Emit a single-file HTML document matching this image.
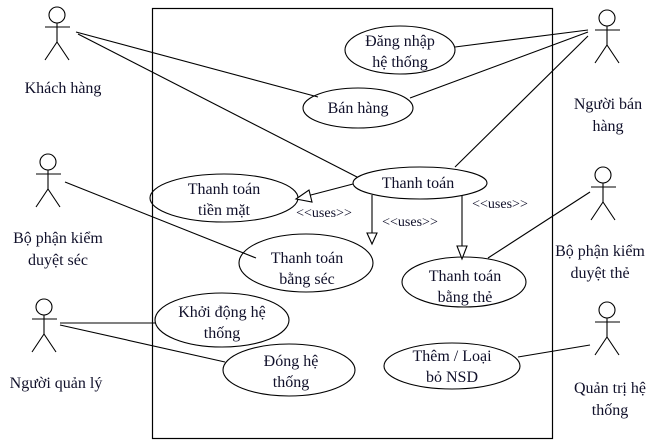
<!DOCTYPE html>
<html><head><meta charset="utf-8"><style>
body{margin:0;background:#fff}
svg text{font-family:"Liberation Serif","DejaVu Serif",serif;fill:#10102a}
</style></head><body>
<svg width="667" height="442" viewBox="0 0 667 442" xmlns="http://www.w3.org/2000/svg" font-family="Liberation Serif, DejaVu Serif, serif">
<rect width="667" height="442" fill="#fff"/>
<rect x="152.5" y="8.5" width="400" height="430" fill="none" stroke="#000" stroke-width="1.2"/>
<g stroke="#000" stroke-width="1.1" fill="none">
<g transform="translate(57,0)"><circle cx="0" cy="15" r="8"/><line x1="0" y1="23" x2="0" y2="42"/><line x1="-12" y1="27" x2="13" y2="27"/><line x1="0" y1="42" x2="-12" y2="60"/><line x1="0" y1="42" x2="12" y2="60"/></g>
<g transform="translate(607,3)"><circle cx="0" cy="15" r="8"/><line x1="0" y1="23" x2="0" y2="42"/><line x1="-12" y1="27" x2="13" y2="27"/><line x1="0" y1="42" x2="-12" y2="60"/><line x1="0" y1="42" x2="12" y2="60"/></g>
<g transform="translate(48,147)"><circle cx="0" cy="15" r="8"/><line x1="0" y1="23" x2="0" y2="42"/><line x1="-12" y1="27" x2="13" y2="27"/><line x1="0" y1="42" x2="-12" y2="60"/><line x1="0" y1="42" x2="12" y2="60"/></g>
<g transform="translate(603,160)"><circle cx="0" cy="15" r="8"/><line x1="0" y1="23" x2="0" y2="42"/><line x1="-12" y1="27" x2="13" y2="27"/><line x1="0" y1="42" x2="-12" y2="60"/><line x1="0" y1="42" x2="12" y2="60"/></g>
<g transform="translate(44,292)"><circle cx="0" cy="15" r="8"/><line x1="0" y1="23" x2="0" y2="42"/><line x1="-12" y1="27" x2="13" y2="27"/><line x1="0" y1="42" x2="-12" y2="60"/><line x1="0" y1="42" x2="12" y2="60"/></g>
<g transform="translate(607,295)"><circle cx="0" cy="15" r="8"/><line x1="0" y1="23" x2="0" y2="42"/><line x1="-12" y1="27" x2="13" y2="27"/><line x1="0" y1="42" x2="-12" y2="60"/><line x1="0" y1="42" x2="12" y2="60"/></g>
<ellipse cx="400" cy="50" rx="55" ry="24"/>
<ellipse cx="358" cy="108" rx="55" ry="20"/>
<ellipse cx="420" cy="183" rx="67" ry="16"/>
<ellipse cx="224" cy="198" rx="74" ry="24"/>
<ellipse cx="306" cy="263" rx="67" ry="29"/>
<ellipse cx="464" cy="282" rx="62" ry="25"/>
<ellipse cx="222" cy="320" rx="67" ry="27"/>
<ellipse cx="289" cy="370" rx="66" ry="26"/>
<ellipse cx="452" cy="366" rx="68" ry="23"/>
<line x1="76" y1="32" x2="318" y2="97"/>
<line x1="78" y1="34" x2="357" y2="177"/>
<line x1="588" y1="30" x2="455" y2="47"/>
<line x1="588" y1="32" x2="410" y2="98"/>
<line x1="588" y1="36" x2="455" y2="167"/>
<line x1="65" y1="182" x2="256" y2="258"/>
<line x1="590" y1="192" x2="488" y2="258"/>
<line x1="60" y1="323" x2="156" y2="323"/>
<line x1="60" y1="325" x2="225" y2="362"/>
<line x1="590" y1="345" x2="518" y2="357"/>
<line x1="353" y1="184" x2="307" y2="196"/>
<polygon points="296,199 309,190 312,202" fill="#fff"/>
<line x1="372" y1="195" x2="372" y2="233"/>
<polygon points="367,233 377,233 372,244" fill="#fff"/>
<line x1="462" y1="196" x2="462" y2="246"/>
<polygon points="457,246 467,246 462,259" fill="#fff"/>
</g>
<g font-size="16" text-anchor="middle">
<text x="63" y="93">Khách hàng</text>
<text x="608" y="109">Người bán</text><text x="608" y="131">hàng</text>
<text x="58" y="243">Bộ phận kiểm</text><text x="58" y="265">duyệt séc</text>
<text x="600" y="256">Bộ phận kiểm</text><text x="600" y="278">duyệt thẻ</text>
<text x="56" y="388">Người quản lý</text>
<text x="610" y="393">Quản trị hệ</text><text x="610" y="415">thống</text>
<text x="400" y="46">Đăng nhập</text><text x="400" y="67">hệ thống</text>
<text x="358" y="113">Bán hàng</text>
<text x="418" y="188">Thanh toán</text>
<text x="224" y="194">Thanh toán</text><text x="224" y="215">tiền mặt</text>
<text x="307" y="263">Thanh toán</text><text x="307" y="284">bằng séc</text>
<text x="465" y="281">Thanh toán</text><text x="465" y="302">bằng thẻ</text>
<text x="222" y="317">Khởi động hệ</text><text x="222" y="338">thống</text>
<text x="291" y="366">Đóng hệ</text><text x="291" y="387">thống</text>
<text x="452" y="361">Thêm / Loại</text><text x="452" y="382">bỏ NSD</text>
</g>
<g font-size="14" text-anchor="middle">
<text x="324" y="217">&lt;&lt;uses&gt;&gt;</text>
<text x="410" y="226">&lt;&lt;uses&gt;&gt;</text>
<text x="500" y="208">&lt;&lt;uses&gt;&gt;</text>
</g>
</svg>
</body></html>
